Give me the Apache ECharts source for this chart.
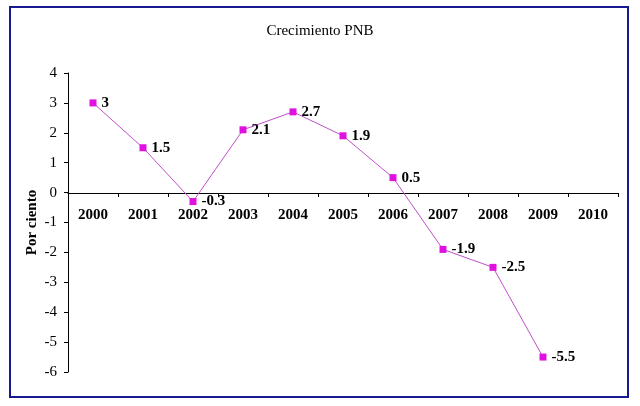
<!DOCTYPE html>
<html>
<head>
<meta charset="utf-8">
<script src="https://cdn.jsdelivr.net/npm/echarts@6/dist/echarts.min.js"></script>
<style>
    html, body { margin: 0; padding: 0; background: #fff; }
    #main { width: 640px; height: 406px; }
</style>
</head>
<body>
<div id="main"></div>
<script>
var years = ['2000', '2001', '2002', '2003', '2004', '2005', '2006', '2007', '2008', '2009', '2010'];
var growth = [3, 1.5, -0.3, 2.1, 2.7, 1.9, 0.5, -1.9, -2.5, -5.5, null];
var yTicks = [-6, -5, -4, -3, -2, -1, 0, 1, 2, 3, 4];

var serif = '"Liberation Serif", "DejaVu Serif", serif';

// grid geometry: plot runs 73..372 px, zero line sits 4 units down
var gridTop = 73, gridBottom = 34;
var plotH = 406 - gridTop - gridBottom;
var zeroShift = -Math.round(plotH * (0 - yTicks[0]) / (yTicks[yTicks.length - 1] - yTicks[0]));

var option = {
    backgroundColor: '#fff',
    animation: false,
    title: {
        text: 'Crecimiento PNB',
        left: 'center',
        top: 19,
        textStyle: {
            fontFamily: serif,
            fontWeight: 'normal',
            fontSize: 15,
            color: '#000'
        }
    },
    graphic: [{
        type: 'rect',
        shape: { x: 10, y: 7, width: 618, height: 390 },
        style: { fill: 'none', stroke: '#18188f', lineWidth: 2 }
    }],
    grid: { left: 68, right: 22, top: gridTop, bottom: gridBottom },
    xAxis: {
        type: 'category',
        data: years,
        boundaryGap: true,
        position: 'bottom',
        offset: zeroShift,
        axisLine: { onZero: false, lineStyle: { color: '#000', width: 1 } },
        axisTick: { show: true, length: 4, alignWithLabel: false, lineStyle: { color: '#000' } },
        axisLabel: {
            fontFamily: serif,
            fontWeight: 'bold',
            fontSize: 15,
            color: '#000',
            margin: 15
        }
    },
    yAxis: {
        type: 'value',
        min: yTicks[0],
        max: yTicks[yTicks.length - 1],
        interval: 1,
        name: 'Por ciento',
        nameLocation: 'middle',
        nameMoveOverlap: false,
        nameGap: 28,
        nameTextStyle: {
            fontFamily: serif,
            fontWeight: 'bold',
            fontSize: 15,
            color: '#000'
        },
        splitLine: { show: false },
        axisLine: { show: true, lineStyle: { color: '#000', width: 1 } },
        axisTick: { show: true, length: 4, lineStyle: { color: '#000' } },
        axisLabel: {
            fontFamily: serif,
            fontSize: 15,
            color: '#000',
            margin: 11
        }
    },
    series: [{
        type: 'line',
        data: growth,
        connectNulls: false,
        symbol: 'rect',
        symbolSize: 7,
        itemStyle: { color: '#e010e0' },
        lineStyle: { color: '#c050c8', width: 1 },
        label: {
            show: true,
            position: 'right',
            distance: 5,
            fontFamily: serif,
            fontWeight: 'bold',
            fontSize: 15,
            color: '#000'
        }
    }]
};

var myChart = echarts.init(document.getElementById('main'));
myChart.setOption(option);
</script>
</body>
</html>
